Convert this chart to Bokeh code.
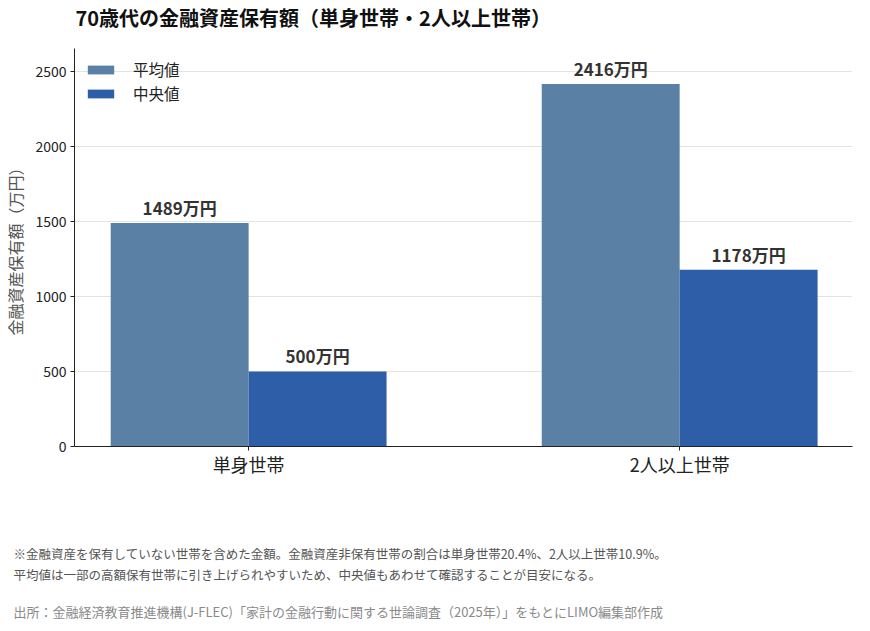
import numpy as np

from bokeh.core.properties import value
from bokeh.embed import file_html
from bokeh.models import ColumnDataSource, FixedTicker, Legend, LegendItem, Range1d, SingleIntervalTicker, Title
from bokeh.plotting import figure
from bokeh.resources import INLINE

FONT = "Noto Sans CJK JP"

categories = ["単身世帯", "2人以上世帯"]
mean_vals = [1489, 2416]
median_vals = [500, 1178]
series_names = ["平均値", "中央値"]
colors = ["#5b80a6", "#2e5ea8"]

title_text = "70歳代の金融資産保有額（単身世帯・2人以上世帯）"
ylabel_text = "金融資産保有額（万円）"
note_lines = [
    "※金融資産を保有していない世帯を含めた金額。金融資産非保有世帯の割合は単身世帯20.4%、2人以上世帯10.9%。",
    "平均値は一部の高額保有世帯に引き上げられやすいため、中央値もあわせて確認することが目安になる。",
]
source_text = "出所：金融経済教育推進機構(J-FLEC)「家計の金融行動に関する世論調査（2025年）」をもとにLIMO編集部作成"

bar_w = 0.32
xs = np.arange(len(categories))


def spacer(gap):
    # empty title used only to push the next one further away
    return Title(text=" ", text_font_size="1px", standoff=gap)


p = figure(width=854, height=623, output_backend="svg", toolbar_location=None,
           x_range=Range1d(-0.404, 1.401), y_range=Range1d(0, 2653),
           min_border_left=66, min_border_right=2, min_border_top=48, min_border_bottom=177)
p.outline_line_color = None
p.background_fill_color = "white"
p.border_fill_color = "white"

renderers = []
for vals, off, col in [(mean_vals, -bar_w / 2, colors[0]), (median_vals, bar_w / 2, colors[1])]:
    src = ColumnDataSource(dict(x=xs + off, top=vals, lab=[f"{v}万円" for v in vals]))
    r = p.vbar(x="x", top="top", width=bar_w, fill_color=col, line_color=None, source=src)
    renderers.append(r)
    p.text(x="x", y="top", text="lab", source=src, text_align="center", text_baseline="bottom",
           y_offset=-3, text_font=value(FONT), text_font_style="bold", text_font_size="17px",
           text_color="#333333")

# axes
p.xgrid.visible = False
p.ygrid.grid_line_color = "#e3e3e3"
p.ygrid.grid_line_width = 1

p.xaxis.ticker = FixedTicker(ticks=list(xs))
p.xaxis.major_label_overrides = {int(i): c for i, c in zip(xs, categories)}
p.yaxis.ticker = SingleIntervalTicker(interval=500)
for ax in (p.xaxis, p.yaxis):
    ax.axis_line_color = "#222222"
    ax.major_tick_line_color = "#222222"
    ax.minor_tick_line_color = None
    ax.major_tick_in = 0
    ax.major_tick_out = 4
    ax.major_label_text_font = FONT
    ax.major_label_text_color = "#222222"
p.xaxis.major_label_text_font_size = "18px"
p.xaxis.major_label_standoff = 0
p.yaxis.major_label_text_font_size = "14px"
p.yaxis.major_label_standoff = 4
p.yaxis.axis_label = ylabel_text
p.yaxis.axis_label_text_font = FONT
p.yaxis.axis_label_text_font_style = "normal"
p.yaxis.axis_label_text_font_size = "16px"
p.yaxis.axis_label_text_color = "#555555"
p.yaxis.axis_label_standoff = 5

legend = Legend(items=[LegendItem(label=n, renderers=[r]) for n, r in zip(series_names, renderers)],
                location="top_left", margin=10, padding=0, spacing=2, border_line_color=None,
                background_fill_alpha=0, glyph_width=33, glyph_height=11, label_standoff=16,
                label_text_font=FONT, label_text_font_size="15.5px", label_text_color="#222222")
p.add_layout(legend)

# title above, notes below
p.title = None
p.add_layout(spacer(14), "above")
p.add_layout(Title(text=title_text, align="left", offset=1, standoff=0,
                   text_font=FONT, text_font_style="bold", text_font_size="20px",
                   text_color="#111111"), "above")

p.add_layout(spacer(59), "below")
for line in note_lines:
    p.add_layout(Title(text=line, align="left", offset=-61, standoff=0,
                       text_font=FONT, text_font_style="normal", text_font_size="12.5px",
                       text_color="#555555"), "below")
p.add_layout(spacer(13), "below")
p.add_layout(Title(text=source_text, align="left", offset=-61, standoff=0,
                   text_font=FONT, text_font_style="normal", text_font_size="13px",
                   text_color="#8a8a8a"), "below")

open("out.html", "w").write(file_html(p, INLINE))
